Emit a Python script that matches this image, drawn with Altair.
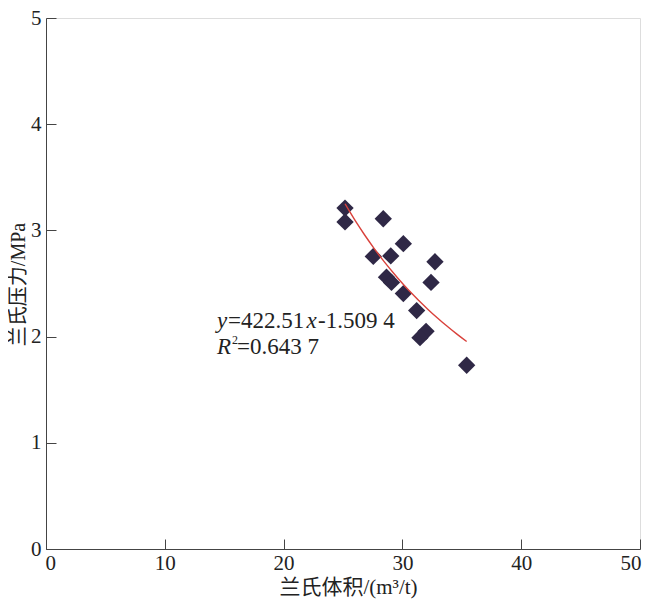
import altair as alt
import pandas as pd

# Langmuir volume (m3/t) and Langmuir pressure (MPa)
volume = [25.17, 25.17, 28.39, 30.08, 27.55, 29.02, 32.74, 28.66, 29.08, 32.41, 30.08, 31.20, 31.99, 31.48, 35.41]
pressure = [3.21, 3.08, 3.11, 2.875, 2.755, 2.76, 2.705, 2.56, 2.51, 2.51, 2.405, 2.245, 2.05, 1.99, 1.73]

x_ticks = [0, 10, 20, 30, 40, 50]
y_ticks = [0, 1, 2, 3, 4, 5]

# fit annotation pieces
eq_text = ["y", "=422.51", "x", "-1.509 4", "R", "2", "=0.643 7"]
eq_x = [14.39, 15.32, 21.93, 22.9, 14.39, 15.66, 16.08]
eq_y = [2.078, 2.078, 2.078, 2.078, 1.837, 1.93, 1.837]
eq_italic = [True, False, True, False, True, False, False]
eq_size = [23, 23, 23, 23, 23, 12, 23]

SERIF = "Liberation Serif, Times New Roman, Noto Sans CJK SC"
CJK = "Liberation Serif, Noto Sans CJK SC"

df = pd.DataFrame({"v": volume, "p": pressure})
eq = pd.DataFrame({"t": eq_text, "x": eq_x, "y": eq_y, "it": eq_italic, "s": eq_size})

xscale = alt.Scale(domain=[0, 50], nice=False, zero=True)
yscale = alt.Scale(domain=[0, 5], nice=False, zero=True)

x_axis = alt.Axis(
    values=x_ticks, format="d", title="兰氏体积/(m³/t)", grid=False,
    tickSize=alt.ExprRef(expr="-10"), labelPadding=13,
    domainColor="#444444", tickColor="#444444", labelColor="#222222",
    labelFont=SERIF, labelFontSize=21, labelFlush=True, labelFlushOffset=1,
    titleFont=CJK, titleFontSize=21, titleFontWeight="normal", titleColor="#222222",
    titleX=302, titleY=38, titleBaseline="middle", titleAlign="center",
)
y_axis = alt.Axis(
    values=y_ticks, format="d", title="兰氏压力/MPa", grid=False,
    tickSize=alt.ExprRef(expr="-10"), labelPadding=15,
    domainColor="#444444", tickColor="#444444", labelColor="#222222",
    labelFont=SERIF, labelFontSize=21, labelFlush=False,
    titleFont=CJK, titleFontSize=20, titleFontWeight="normal", titleColor="#222222",
    titleX=-28, titleY=266, titleBaseline="middle", titleAlign="center", titleAngle=-90,
)

points = alt.Chart(df).mark_point(
    shape="diamond", filled=True, size=300, color="#2f2846", opacity=1
).encode(
    x=alt.X("v:Q", scale=xscale, axis=x_axis),
    y=alt.Y("p:Q", scale=yscale, axis=y_axis),
)

curve = alt.Chart(df).transform_regression(
    "v", "p", method="pow"
).mark_line(color="#d9413b", strokeWidth=1.4).encode(
    x=alt.X("v:Q", scale=xscale),
    y=alt.Y("p:Q", scale=yscale),
)

txt_it = alt.Chart(eq).transform_filter("datum.it").mark_text(
    align="left", baseline="alphabetic", font=SERIF, fontStyle="italic", color="#222222"
).encode(
    x=alt.X("x:Q", scale=xscale), y=alt.Y("y:Q", scale=yscale),
    text="t:N", size=alt.Size("s:Q", scale=None, legend=None),
)
txt_n = alt.Chart(eq).transform_filter("!datum.it").mark_text(
    align="left", baseline="alphabetic", font=SERIF, color="#222222"
).encode(
    x=alt.X("x:Q", scale=xscale), y=alt.Y("y:Q", scale=yscale),
    text="t:N", size=alt.Size("s:Q", scale=None, legend=None),
)

chart = alt.layer(points, curve, txt_it, txt_n).properties(
    width=594, height=531,
    autosize=alt.AutoSizeParams(type="none"),
    padding={"left": 38, "top": 10, "right": 2, "bottom": 50},
).configure_view(stroke=None).configure(background="white")

chart.save("out.html", embed_options={"renderer": "svg", "actions": False})
